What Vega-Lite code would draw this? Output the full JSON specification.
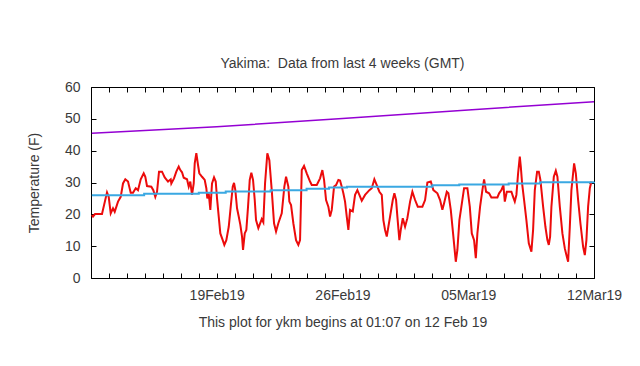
{
  "$schema": "https://vega.github.io/schema/vega-lite/v6.json",
  "width": 503,
  "height": 191,
  "autosize": {"type": "none"},
  "padding": {"left": 91, "top": 87, "right": 46, "bottom": 88},
  "background": "white",
  "title": {"text": "Yakima:\u00a0 Data from last 4 weeks (GMT)", "anchor": "middle", "font": "Liberation Sans", "fontSize": 14, "fontWeight": "normal", "color": "#3a3a3a", "offset": 9},
  "datasets": {
    "temp": [
      {"t": "2019-02-12T01:07", "v": 19.8}, {"t": "2019-02-12T02:40", "v": 19.3}, {"t": "2019-02-12T05:21", "v": 20.1}, {"t": "2019-02-12T14:42", "v": 20.1},
      {"t": "2019-02-12T21:23", "v": 26.9}, {"t": "2019-02-12T23:39", "v": 25.5}, {"t": "2019-02-13T02:20", "v": 20.3}, {"t": "2019-02-13T05:24", "v": 21.9},
      {"t": "2019-02-13T07:40", "v": 20.8}, {"t": "2019-02-13T12:05", "v": 24.0}, {"t": "2019-02-13T15:41", "v": 25.5}, {"t": "2019-02-13T18:46", "v": 29.7},
      {"t": "2019-02-13T21:50", "v": 31.0}, {"t": "2019-02-14T01:26", "v": 30.3}, {"t": "2019-02-14T05:03", "v": 26.8}, {"t": "2019-02-14T08:07", "v": 26.8},
      {"t": "2019-02-14T11:44", "v": 28.2}, {"t": "2019-02-14T14:48", "v": 27.6}, {"t": "2019-02-14T18:25", "v": 31.0}, {"t": "2019-02-14T22:25", "v": 32.9},
      {"t": "2019-02-15T00:33", "v": 31.8}, {"t": "2019-02-15T02:50", "v": 28.9}, {"t": "2019-02-15T08:35", "v": 28.7}, {"t": "2019-02-15T11:15", "v": 27.6},
      {"t": "2019-02-15T13:55", "v": 25.5}, {"t": "2019-02-15T16:12", "v": 27.1}, {"t": "2019-02-15T18:52", "v": 33.4}, {"t": "2019-02-15T22:53", "v": 33.4},
      {"t": "2019-02-16T02:29", "v": 31.6}, {"t": "2019-02-16T06:54", "v": 30.3}, {"t": "2019-02-16T10:30", "v": 31.0}, {"t": "2019-02-16T11:18", "v": 29.7},
      {"t": "2019-02-16T14:54", "v": 31.3}, {"t": "2019-02-16T17:59", "v": 33.4}, {"t": "2019-02-16T21:11", "v": 35.0}, {"t": "2019-02-16T23:20", "v": 33.9},
      {"t": "2019-02-17T01:36", "v": 33.2}, {"t": "2019-02-17T03:53", "v": 31.5}, {"t": "2019-02-17T08:17", "v": 31.0}, {"t": "2019-02-17T10:34", "v": 28.7},
      {"t": "2019-02-17T12:41", "v": 30.3}, {"t": "2019-02-17T14:58", "v": 26.1}, {"t": "2019-02-17T17:14", "v": 29.7}, {"t": "2019-02-17T18:34", "v": 36.0},
      {"t": "2019-02-17T20:43", "v": 39.2}, {"t": "2019-02-17T22:59", "v": 35.5}, {"t": "2019-02-18T00:43", "v": 32.9}, {"t": "2019-02-18T04:20", "v": 31.8},
      {"t": "2019-02-18T07:56", "v": 30.8}, {"t": "2019-02-18T10:05", "v": 28.2}, {"t": "2019-02-18T11:25", "v": 25.0}, {"t": "2019-02-18T13:17", "v": 26.6},
      {"t": "2019-02-18T15:25", "v": 21.4}, {"t": "2019-02-18T17:41", "v": 29.7}, {"t": "2019-02-18T20:22", "v": 31.6}, {"t": "2019-02-18T22:38", "v": 30.3},
      {"t": "2019-02-19T00:22", "v": 25.0}, {"t": "2019-02-19T02:39", "v": 19.3}, {"t": "2019-02-19T04:47", "v": 14.0}, {"t": "2019-02-19T07:59", "v": 11.9},
      {"t": "2019-02-19T10:08", "v": 10.4}, {"t": "2019-02-19T12:48", "v": 11.9}, {"t": "2019-02-19T16:01", "v": 16.1}, {"t": "2019-02-19T18:41", "v": 22.4},
      {"t": "2019-02-19T21:21", "v": 28.7}, {"t": "2019-02-19T23:05", "v": 29.9}, {"t": "2019-02-20T00:50", "v": 27.6}, {"t": "2019-02-20T03:06", "v": 21.9},
      {"t": "2019-02-20T05:22", "v": 19.3}, {"t": "2019-02-20T07:31", "v": 16.7}, {"t": "2019-02-20T09:47", "v": 13.0}, {"t": "2019-02-20T11:07", "v": 8.8},
      {"t": "2019-02-20T13:23", "v": 14.0}, {"t": "2019-02-20T15:32", "v": 15.1}, {"t": "2019-02-20T17:48", "v": 22.4}, {"t": "2019-02-20T20:04", "v": 30.8},
      {"t": "2019-02-20T22:13", "v": 33.1}, {"t": "2019-02-21T00:29", "v": 30.8}, {"t": "2019-02-21T02:45", "v": 24.5}, {"t": "2019-02-21T04:29", "v": 18.2},
      {"t": "2019-02-21T07:34", "v": 15.7}, {"t": "2019-02-21T12:07", "v": 18.5}, {"t": "2019-02-21T14:14", "v": 17.5}, {"t": "2019-02-21T16:31", "v": 29.7},
      {"t": "2019-02-21T19:35", "v": 39.2}, {"t": "2019-02-21T22:16", "v": 37.0}, {"t": "2019-02-22T01:28", "v": 27.6}, {"t": "2019-02-22T04:32", "v": 17.2},
      {"t": "2019-02-22T07:13", "v": 14.6}, {"t": "2019-02-22T10:17", "v": 17.2}, {"t": "2019-02-22T14:50", "v": 20.3}, {"t": "2019-02-22T18:19", "v": 28.7},
      {"t": "2019-02-22T20:35", "v": 31.8}, {"t": "2019-02-22T23:39", "v": 28.7}, {"t": "2019-02-23T00:59", "v": 24.0}, {"t": "2019-02-23T03:16", "v": 22.9},
      {"t": "2019-02-23T06:20", "v": 17.2}, {"t": "2019-02-23T09:56", "v": 11.9}, {"t": "2019-02-23T13:01", "v": 10.4}, {"t": "2019-02-23T15:17", "v": 11.9},
      {"t": "2019-02-23T17:34", "v": 33.9}, {"t": "2019-02-23T20:38", "v": 35.2}, {"t": "2019-02-24T00:14", "v": 32.9}, {"t": "2019-02-24T04:39", "v": 30.3},
      {"t": "2019-02-24T06:55", "v": 29.2}, {"t": "2019-02-24T13:36", "v": 29.2}, {"t": "2019-02-24T18:01", "v": 31.3}, {"t": "2019-02-24T21:05", "v": 33.9},
      {"t": "2019-02-24T23:22", "v": 30.8}, {"t": "2019-02-25T02:02", "v": 24.5}, {"t": "2019-02-25T05:06", "v": 22.4}, {"t": "2019-02-25T07:23", "v": 19.3},
      {"t": "2019-02-25T09:39", "v": 21.4}, {"t": "2019-02-25T12:43", "v": 28.7}, {"t": "2019-02-25T15:23", "v": 29.2}, {"t": "2019-02-25T18:28", "v": 30.8},
      {"t": "2019-02-25T20:44", "v": 30.6}, {"t": "2019-02-25T23:01", "v": 28.7}, {"t": "2019-02-26T01:09", "v": 26.6}, {"t": "2019-02-26T03:25", "v": 24.0},
      {"t": "2019-02-26T05:41", "v": 19.3}, {"t": "2019-02-26T07:50", "v": 15.1}, {"t": "2019-02-26T10:06", "v": 21.4}, {"t": "2019-02-26T13:43", "v": 20.9},
      {"t": "2019-02-26T16:47", "v": 26.1}, {"t": "2019-02-26T19:52", "v": 27.6}, {"t": "2019-02-26T22:32", "v": 26.1}, {"t": "2019-02-27T01:44", "v": 24.3},
      {"t": "2019-02-27T06:09", "v": 26.1}, {"t": "2019-02-27T11:53", "v": 27.6}, {"t": "2019-02-27T15:06", "v": 28.2}, {"t": "2019-02-27T18:34", "v": 31.0},
      {"t": "2019-02-27T21:47", "v": 29.2}, {"t": "2019-02-28T01:16", "v": 27.1}, {"t": "2019-02-28T04:28", "v": 26.1}, {"t": "2019-02-28T06:36", "v": 18.2},
      {"t": "2019-02-28T08:52", "v": 15.1}, {"t": "2019-02-28T11:08", "v": 13.0}, {"t": "2019-02-28T13:17", "v": 16.1}, {"t": "2019-02-28T15:33", "v": 19.3},
      {"t": "2019-02-28T19:10", "v": 24.5}, {"t": "2019-02-28T21:18", "v": 26.6}, {"t": "2019-02-28T23:34", "v": 24.5}, {"t": "2019-03-01T01:19", "v": 19.3},
      {"t": "2019-03-01T03:59", "v": 11.9}, {"t": "2019-03-01T05:51", "v": 15.1}, {"t": "2019-03-01T08:31", "v": 18.8}, {"t": "2019-03-01T11:36", "v": 16.1},
      {"t": "2019-03-01T14:40", "v": 18.8}, {"t": "2019-03-01T18:17", "v": 24.0}, {"t": "2019-03-01T21:21", "v": 27.1}, {"t": "2019-03-02T00:58", "v": 24.5},
      {"t": "2019-03-02T04:34", "v": 22.4}, {"t": "2019-03-02T10:43", "v": 22.4}, {"t": "2019-03-02T14:19", "v": 24.5}, {"t": "2019-03-02T17:24", "v": 30.0},
      {"t": "2019-03-02T21:56", "v": 30.3}, {"t": "2019-03-03T01:25", "v": 27.6}, {"t": "2019-03-03T06:46", "v": 26.6}, {"t": "2019-03-03T10:22", "v": 24.5},
      {"t": "2019-03-03T13:26", "v": 21.4}, {"t": "2019-03-03T15:43", "v": 23.5}, {"t": "2019-03-03T19:19", "v": 27.1}, {"t": "2019-03-03T21:28", "v": 26.6},
      {"t": "2019-03-04T00:40", "v": 21.4}, {"t": "2019-03-04T04:08", "v": 13.0}, {"t": "2019-03-04T07:21", "v": 5.1}, {"t": "2019-03-04T09:29", "v": 8.8},
      {"t": "2019-03-04T12:10", "v": 18.2}, {"t": "2019-03-04T14:50", "v": 22.4}, {"t": "2019-03-04T18:26", "v": 28.2}, {"t": "2019-03-04T22:51", "v": 28.2},
      {"t": "2019-03-05T02:04", "v": 22.4}, {"t": "2019-03-05T04:44", "v": 14.0}, {"t": "2019-03-05T07:48", "v": 11.9}, {"t": "2019-03-05T10:05", "v": 6.2},
      {"t": "2019-03-05T12:13", "v": 14.0}, {"t": "2019-03-05T15:49", "v": 22.4}, {"t": "2019-03-05T18:53", "v": 27.6}, {"t": "2019-03-05T21:10", "v": 31.0},
      {"t": "2019-03-05T23:50", "v": 27.1}, {"t": "2019-03-06T03:51", "v": 26.6}, {"t": "2019-03-06T06:55", "v": 25.3}, {"t": "2019-03-06T14:56", "v": 25.3},
      {"t": "2019-03-06T17:13", "v": 26.6}, {"t": "2019-03-06T20:17", "v": 27.6}, {"t": "2019-03-06T22:58", "v": 29.2}, {"t": "2019-03-07T00:50", "v": 24.0},
      {"t": "2019-03-07T03:30", "v": 27.1}, {"t": "2019-03-07T09:39", "v": 27.1}, {"t": "2019-03-07T11:55", "v": 25.5}, {"t": "2019-03-07T14:11", "v": 24.0},
      {"t": "2019-03-07T16:20", "v": 26.1}, {"t": "2019-03-07T18:36", "v": 32.9}, {"t": "2019-03-07T20:52", "v": 38.1}, {"t": "2019-03-07T22:13", "v": 35.0},
      {"t": "2019-03-07T23:57", "v": 29.7}, {"t": "2019-03-08T02:37", "v": 24.5}, {"t": "2019-03-08T05:41", "v": 18.2}, {"t": "2019-03-08T08:54", "v": 10.9},
      {"t": "2019-03-08T12:22", "v": 8.3}, {"t": "2019-03-08T14:38", "v": 15.1}, {"t": "2019-03-08T16:55", "v": 27.6}, {"t": "2019-03-08T19:59", "v": 33.4},
      {"t": "2019-03-08T22:16", "v": 33.4}, {"t": "2019-03-09T00:24", "v": 30.8}, {"t": "2019-03-09T04:01", "v": 22.4}, {"t": "2019-03-09T07:05", "v": 16.1},
      {"t": "2019-03-09T09:45", "v": 11.9}, {"t": "2019-03-09T11:37", "v": 10.4}, {"t": "2019-03-09T13:22", "v": 13.0}, {"t": "2019-03-09T15:06", "v": 22.4},
      {"t": "2019-03-09T18:19", "v": 31.8}, {"t": "2019-03-09T20:59", "v": 33.7}, {"t": "2019-03-09T23:07", "v": 31.8}, {"t": "2019-03-10T02:19", "v": 22.4},
      {"t": "2019-03-10T05:48", "v": 14.0}, {"t": "2019-03-10T09:00", "v": 9.3}, {"t": "2019-03-10T11:08", "v": 7.2}, {"t": "2019-03-10T13:25", "v": 5.1},
      {"t": "2019-03-10T15:41", "v": 16.1}, {"t": "2019-03-10T17:49", "v": 27.6}, {"t": "2019-03-10T20:06", "v": 32.9}, {"t": "2019-03-10T21:26", "v": 36.0},
      {"t": "2019-03-10T23:42", "v": 32.9}, {"t": "2019-03-11T02:47", "v": 24.5}, {"t": "2019-03-11T05:51", "v": 17.2}, {"t": "2019-03-11T09:28", "v": 9.8},
      {"t": "2019-03-11T11:44", "v": 7.2}, {"t": "2019-03-11T13:52", "v": 11.9}, {"t": "2019-03-11T16:08", "v": 22.4}, {"t": "2019-03-11T18:25", "v": 28.2},
      {"t": "2019-03-11T20:33", "v": 30.3}
    ],
    "normal": [
      {"t": "2019-02-12T01:07", "v": 26.0}, {"t": "2019-02-14T23:00", "v": 26.5}, {"t": "2019-02-18T00:00", "v": 26.8},
      {"t": "2019-02-19T12:00", "v": 27.2}, {"t": "2019-02-22T00:00", "v": 27.6}, {"t": "2019-02-24T00:00", "v": 28.0},
      {"t": "2019-02-25T06:00", "v": 28.4}, {"t": "2019-02-26T06:00", "v": 28.7}, {"t": "2019-03-03T00:00", "v": 29.1},
      {"t": "2019-03-04T12:00", "v": 29.4}, {"t": "2019-03-07T06:00", "v": 29.7}, {"t": "2019-03-09T00:00", "v": 30.1},
      {"t": "2019-03-12T00:00", "v": 30.2}
    ],
    "high": [
      {"t": "2019-02-12T01:07", "v": 45.5}, {"t": "2019-02-19T00:00", "v": 47.5}, {"t": "2019-02-26T00:00", "v": 50.1},
      {"t": "2019-03-05T00:00", "v": 52.8}, {"t": "2019-03-12T00:00", "v": 55.4}
    ]
  },
  "layer": [
    {
      "data": {"name": "temp"},
      "mark": {"type": "line", "color": "#ec0b0b", "strokeWidth": 2},
      "encoding": {
        "x": {"field": "t", "type": "temporal",
              "scale": {"domain": [{"year": 2019, "month": 2, "date": 12}, {"year": 2019, "month": 3, "date": 12}]},
              "axis": {"orient": "bottom", "tickCount": {"interval": "day", "step": 1}, "format": "%d%b%y",
                       "labelExpr": "indexof(['19Feb19','26Feb19','05Mar19','12Mar19'], datum.label) >= 0 ? datum.label : ''",
                       "labelOverlap": false, "labelFlush": false, "labelBound": false, "tickSize": -5, "labelPadding": 15,
                       "title": "This plot for ykm begins at 01:07 on 12 Feb 19", "titlePadding": 13}},
        "y": {"field": "v", "type": "quantitative", "scale": {"domain": [0, 60], "nice": false},
              "axis": {"orient": "left", "values": [0, 10, 20, 30, 40, 50, 60], "tickSize": -5, "labelPadding": 16,
                       "title": "Temperature (F)", "titlePadding": 23}}
      }
    },
    {
      "data": {"name": "normal"},
      "mark": {"type": "line", "color": "#3aa8e2", "strokeWidth": 2, "interpolate": "step-after"},
      "encoding": {
        "x": {"field": "t", "type": "temporal",
              "axis": {"orient": "top", "tickCount": {"interval": "day", "step": 1}, "labels": false, "tickSize": -5, "title": null}},
        "y": {"field": "v", "type": "quantitative",
              "axis": {"orient": "right", "values": [0, 10, 20, 30, 40, 50, 60], "labels": false, "tickSize": -5, "title": null}}
      }
    },
    {
      "data": {"name": "high"},
      "mark": {"type": "line", "color": "#9400d3", "strokeWidth": 1.5},
      "encoding": {
        "x": {"field": "t", "type": "temporal", "axis": null},
        "y": {"field": "v", "type": "quantitative", "axis": null}
      }
    }
  ],
  "resolve": {"axis": {"x": "independent", "y": "independent"}},
  "config": {
    "view": {"stroke": "#000", "strokeWidth": 1},
    "axis": {"domain": false, "grid": false, "tickColor": "#000", "tickWidth": 1,
             "labelFont": "Liberation Sans", "labelFontSize": 14, "labelColor": "#3a3a3a",
             "titleFont": "Liberation Sans", "titleFontSize": 14, "titleFontWeight": "normal", "titleColor": "#3a3a3a"}
  }
}
